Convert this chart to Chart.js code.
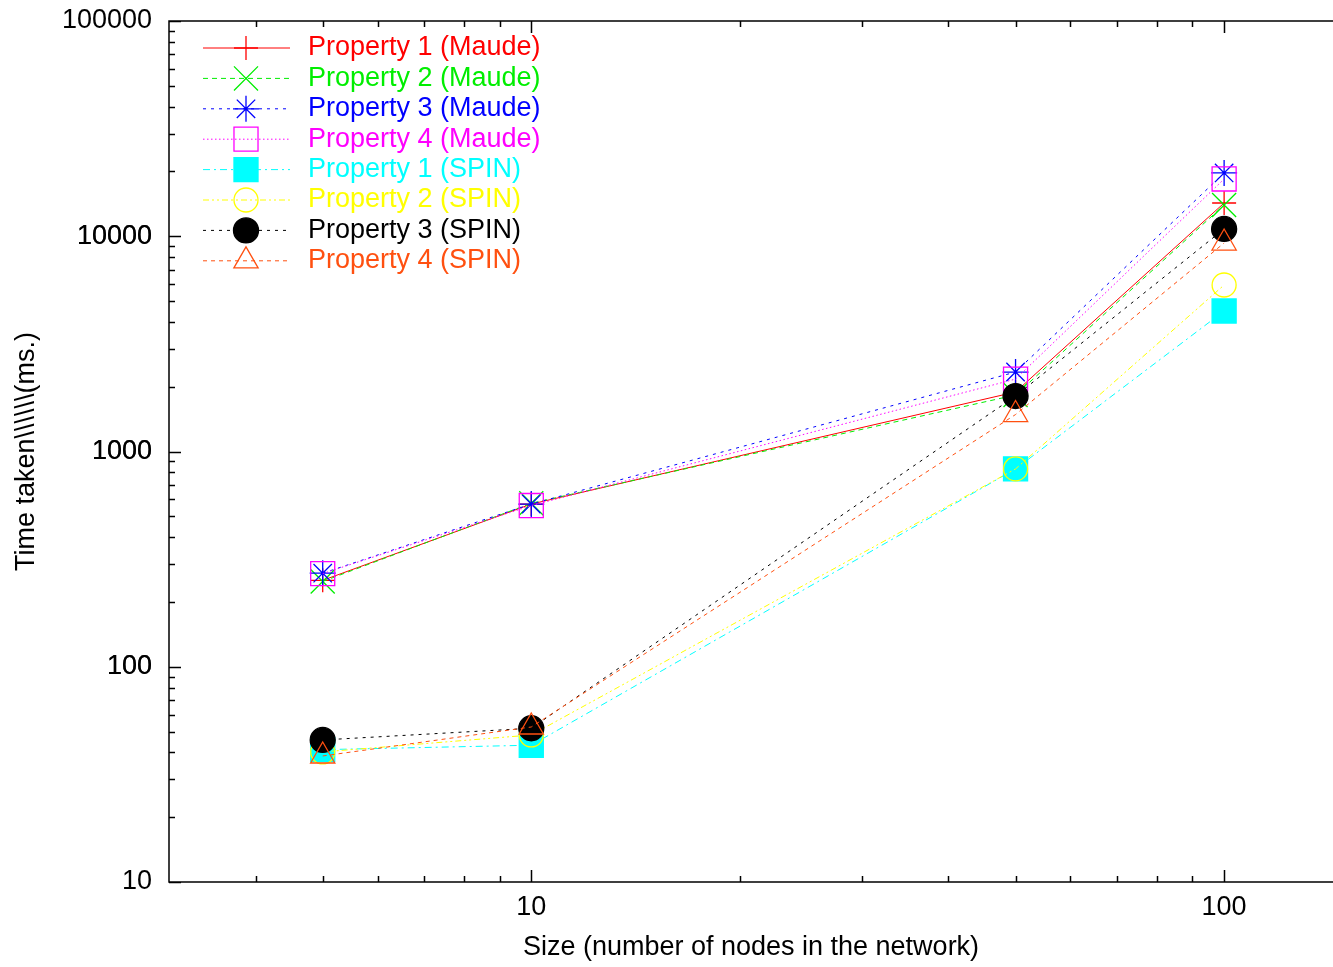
<!DOCTYPE html>
<html>
<head>
<meta charset="utf-8">
<title>Time taken vs size</title>
<script src="https://cdn.jsdelivr.net/npm/chart.js@4/dist/chart.umd.min.js"></script>
<style>
  html, body { margin: 0; padding: 0; background: #fff; overflow: hidden; }
  #wrap { width: 1333px; height: 967px; }
  #chart { display: block; }
</style>
</head>
<body>
<div id="wrap"><canvas id="chart" width="1333" height="967"></canvas></div>
<script>
// Network sizes (x) and run times in ms (y)
const SIZES = [5, 10, 50, 100];

const P1_MAUDE = [252, 570, 1890, 14270];
const P2_MAUDE = [249, 575, 1830, 13970];
const P3_MAUDE = [272, 570, 2340, 19680];
const P4_MAUDE = [271, 561, 2170, 18450];
const P1_SPIN  = [41.2, 43.2, 830, 4495];
const P2_SPIN  = [40.2, 48.2, 830, 5935];
const P3_SPIN  = [45.7, 51.8, 1810, 10810];
const P4_SPIN  = [38.5, 52.5, 1485, 9300];

// Tick marks and which of them get a label
const X_TICKS  = [4, 5, 6, 7, 8, 9, 10, 20, 30, 40, 50, 60, 70, 80, 90, 100];
const X_LABELS = [10, 100];
const Y_TICKS  = [20, 30, 40, 50, 60, 70, 80, 90, 100,
                  200, 300, 400, 500, 600, 700, 800, 900, 1000,
                  2000, 3000, 4000, 5000, 6000, 7000, 8000, 9000, 10000,
                  20000, 30000, 40000, 50000, 60000, 70000, 80000, 90000];
const Y_LABELS = [10, 100, 1000, 10000, 100000];

const FONT = "'Liberation Sans', Arial, sans-serif";
const FONT_SIZE = 27;

// ---- one series: colour, dash and gnuplot-like marker ----
function series(label, values, color, dash, style, radius, filled) {
    return {
        label,
        data: SIZES.map((x, i) => ({ x, y: values[i] })),
        borderColor: color,
        borderWidth: 1,
        borderDash: dash,
        pointStyle: style,
        pointRadius: radius,
        pointHoverRadius: radius,
        pointBorderColor: color,
        pointBackgroundColor: filled ? color : "rgba(0,0,0,0)",
        pointBorderWidth: 1.3,
        tension: 0,
        fill: false,
        clip: false
    };
}

const datasets = [
    series("Property 1 (Maude)", P1_MAUDE, "#ff0000", [],              "cross",    12,   false),
    series("Property 2 (Maude)", P2_MAUDE, "#00ee00", [5, 4],          "crossRot", 17,   false),
    series("Property 3 (Maude)", P3_MAUDE, "#0000ff", [3, 5],          "star",     13,   false),
    series("Property 4 (Maude)", P4_MAUDE, "#ff00ff", [1.5, 2.5],      "rect",     17,   false),
    series("Property 1 (SPIN)",  P1_SPIN,  "#00ffff", [7, 4, 2, 4],    "rect",     17,   true),
    series("Property 2 (SPIN)",  P2_SPIN,  "#ffff00", [6, 3, 2, 3, 2, 3], "circle", 12,  false),
    series("Property 3 (SPIN)",  P3_SPIN,  "#000000", [3, 5],          "circle",   12.5, true),
    series("Property 4 (SPIN)",  P4_SPIN,  "#ff5010", [4, 4],          "triangle", 14,   false)
];
// later series are painted on top, as gnuplot does
datasets.forEach((ds, i) => { ds.order = datasets.length - 1 - i; });

// ---- border box + inward ticks (major long, minor short) ----
const frameTicks = {
    id: "frameTicks",
    beforeDatasetsDraw(chart) {
        const { ctx, chartArea: a, scales: { x, y } } = chart;
        ctx.save();
        ctx.strokeStyle = "#000";
        ctx.lineWidth = 1.5;
        ctx.beginPath();
        ctx.moveTo(a.right + 2, a.top);
        ctx.lineTo(a.left, a.top);
        ctx.lineTo(a.left, a.bottom);
        ctx.lineTo(a.right + 2, a.bottom);
        x.ticks.forEach((t) => {
            const px = Math.round(x.getPixelForValue(t.value)) + 0.5;
            const len = X_LABELS.includes(t.value) ? 12 : 6;
            ctx.moveTo(px, a.bottom); ctx.lineTo(px, a.bottom - len);
            ctx.moveTo(px, a.top);    ctx.lineTo(px, a.top + len);
        });
        y.ticks.forEach((t) => {
            const py = Math.round(y.getPixelForValue(t.value)) + 0.5;
            const len = Y_LABELS.includes(t.value) ? 12 : 6;
            ctx.moveTo(a.left, py); ctx.lineTo(a.left + len, py);
        });
        ctx.stroke();
        ctx.restore();
    }
};

// ---- gnuplot style key: line sample, marker, coloured text ----
const keyBox = {
    id: "keyBox",
    afterDatasetsDraw(chart) {
        const { ctx } = chart;
        const top = 48, step = 30.4;
        ctx.save();
        chart.data.datasets.forEach((ds, i) => {
            const yy = top + i * step;
            ctx.strokeStyle = ds.borderColor;
            ctx.lineWidth = 1;
            ctx.setLineDash(ds.borderDash);
            ctx.beginPath();
            ctx.moveTo(203, yy);
            ctx.lineTo(290, yy);
            ctx.stroke();
            ctx.setLineDash([]);
            ctx.fillStyle = ds.pointBackgroundColor;
            ctx.strokeStyle = ds.pointBorderColor;
            ctx.lineWidth = ds.pointBorderWidth;
            Chart.helpers.drawPoint(ctx, {
                pointStyle: ds.pointStyle,
                radius: ds.pointRadius,
                borderWidth: ds.pointBorderWidth,
                rotation: 0
            }, 246, yy);
            ctx.fillStyle = ds.borderColor;
            ctx.font = `${FONT_SIZE}px ${FONT}`;
            ctx.textBaseline = "middle";
            ctx.textAlign = "left";
            ctx.fillText(ds.label, 308, yy);
        });
        ctx.restore();
    }
};

new Chart(document.getElementById("chart"), {
    type: "line",
    data: { datasets },
    plugins: [frameTicks, keyBox],
    options: {
        responsive: false,
        animation: false,
        layout: { autoPadding: false, padding: { top: 21, right: 0, left: 0, bottom: 0 } },
        plugins: {
            legend:  { display: false },
            tooltip: { enabled: false }
        },
        scales: {
            x: {
                type: "logarithmic",
                min: 3,
                max: 143.6,
                bounds: "data",
                afterBuildTicks: (s) => { s.ticks = X_TICKS.map((v) => ({ value: v })); },
                afterFit: (s) => { s.height = 85; s.paddingLeft = 0; s.paddingRight = 0; },
                grid:   { display: false, drawTicks: false },
                border: { display: false },
                ticks: {
                    autoSkip: false,
                    maxRotation: 0,
                    padding: 9,
                    color: "#000",
                    font: { family: FONT, size: FONT_SIZE },
                    callback: (v) => X_LABELS.includes(v) ? String(v) : ""
                },
                title: {
                    display: true,
                    text: "Size (number of nodes in the network)",
                    color: "#000",
                    font: { family: FONT, size: FONT_SIZE },
                    padding: { top: 0, bottom: 3 }
                }
            },
            y: {
                type: "logarithmic",
                min: 10,
                max: 100000,
                bounds: "data",
                afterBuildTicks: (s) => { s.ticks = Y_LABELS.concat(Y_TICKS).map((v) => ({ value: v })); },
                afterFit: (s) => { s.width = 169; s.paddingTop = 0; s.paddingBottom = 0; },
                grid:   { display: false, drawTicks: false },
                border: { display: false },
                ticks: {
                    autoSkip: false,
                    padding: 17,
                    color: "#000",
                    font: { family: FONT, size: FONT_SIZE },
                    callback: (v) => Y_LABELS.includes(v) ? String(v) : ""
                },
                title: {
                    display: true,
                    text: String.raw`Time taken\\\\\\(ms.)`,
                    color: "#000",
                    font: { family: FONT, size: FONT_SIZE },
                    padding: { top: 10, bottom: 0 }
                }
            }
        }
    }
});
</script>
</body>
</html>
